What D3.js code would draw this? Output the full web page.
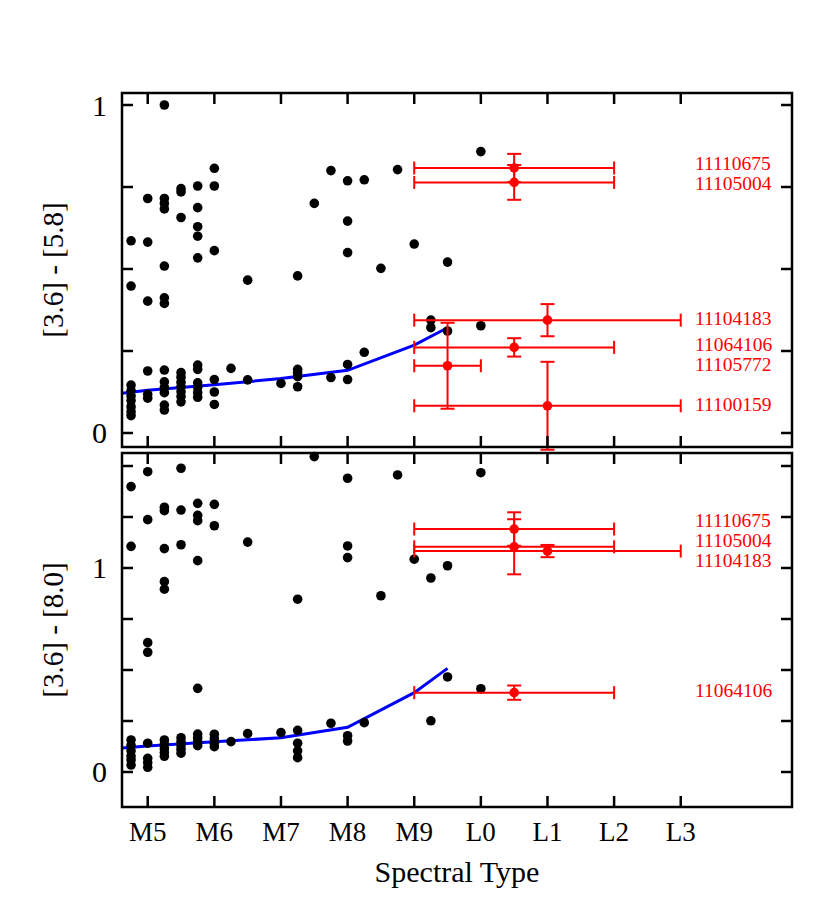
<!DOCTYPE html>
<html><head><meta charset="utf-8">
<script src="https://cdn.jsdelivr.net/npm/d3@7"></script>
<style>body{margin:0;background:#fff}svg{display:block}text{font-family:"Liberation Serif","Times New Roman",serif}</style>
</head><body><svg id="c" width="825" height="900"></svg>
<script>
// ---- DATA ----
const sptTicks = [5,6,7,8,9,10,11,12,13];
const sptLabels = ["M5","M6","M7","M8","M9","L0","L1","L2","L3"];

// Panel 1: [3.6]-[5.8] (black points)
const topX = [5.25,6.0,5.5,5.5,5.75,6.0,5.0,5.25,5.25,5.25,5.75,5.5,5.75,5.75,4.75,5.0,6.0,5.75,5.25,
  4.75,5.0,5.25,5.25,6.5,7.25,
  4.75,4.75,4.75,4.75,4.75,4.75,4.75,
  5.0,5.0,5.0,
  5.25,5.25,5.25,5.25,5.25,5.25,
  5.5,5.5,5.5,5.5,5.5,5.5,5.5,
  5.75,5.75,5.75,5.75,5.75,5.75,
  6.0,6.0,6.0,6.25,6.5,7.0,7.25,7.25,7.25,7.25,
  10.0,7.75,8.0,8.25,8.75,7.5,8.0,8.0,8.5,9.0,9.5,9.25,9.25,9.5,10.0,8.25,8.0,7.75,8.0];
const topY = [1.0,0.807,0.745,0.735,0.753,0.753,0.715,0.715,0.70,0.683,0.687,0.657,0.629,0.60,0.586,0.582,0.556,0.534,0.509,
  0.448,0.402,0.412,0.395,0.466,0.479,
  0.146,0.129,0.113,0.099,0.080,0.065,0.053,
  0.189,0.118,0.106,
  0.192,0.156,0.139,0.123,0.085,0.070,
  0.184,0.170,0.155,0.141,0.126,0.111,0.095,
  0.207,0.194,0.153,0.139,0.123,0.109,
  0.163,0.125,0.087,0.197,0.162,0.151,0.194,0.184,0.172,0.141,
  0.858,0.80,0.769,0.772,0.803,0.70,0.646,0.550,0.502,0.576,0.521,0.344,0.321,0.311,0.327,0.246,0.209,0.169,0.163];

// Panel 2: [3.6]-[8.0] (black points)
const botX = [5.0,5.5,4.75,5.25,5.25,5.5,5.75,6.0,5.75,5.75,5.0,6.0,6.5,4.75,5.25,5.5,5.75,5.25,5.25,7.25,5.0,5.0,5.75,
  4.75,4.75,4.75,4.75,4.75,4.75,
  5.0,5.0,5.0,5.0,
  5.25,5.25,5.25,5.25,5.25,
  5.5,5.5,5.5,5.5,5.5,
  5.75,5.75,5.75,5.75,
  6.0,6.0,6.0,6.0,
  6.25,6.5,7.0,7.25,7.25,7.25,7.25,
  7.5,8.0,8.75,10.0,8.0,8.0,9.0,9.25,9.5,8.5,9.5,10.0,9.25,8.25,7.75,8.0,8.0];
const botY = [1.472,1.489,1.399,1.298,1.281,1.284,1.317,1.312,1.258,1.232,1.237,1.207,1.127,1.106,1.095,1.114,1.036,0.933,0.896,0.847,0.634,0.587,0.410,
  0.157,0.131,0.104,0.078,0.059,0.034,
  0.141,0.067,0.046,0.023,
  0.157,0.136,0.114,0.095,0.077,
  0.168,0.149,0.129,0.111,0.092,
  0.186,0.168,0.149,0.129,
  0.185,0.163,0.141,0.124,
  0.149,0.188,0.193,0.204,0.141,0.104,0.070,
  1.546,1.44,1.456,1.467,1.108,1.051,1.043,0.951,1.011,0.864,0.466,0.408,0.251,0.242,0.239,0.178,0.152];

// Model sequences (blue lines)
const modelSpt = [4.5,5,6,7,8,9,9.5];
const model58 = [0.119,0.130,0.147,0.166,0.191,0.268,0.321];
const model80 = [0.115,0.127,0.148,0.168,0.219,0.389,0.508];

// Red objects, panel 1
const redNames1 = ["11110675","11105004","11104183","11064106","11105772","11100159"];
const redX1 = [10.5,10.5,11,10.5,9.5,11];
const redXlo1 = [9,9,9,9,9,9];
const redXhi1 = [12,12,13,12,10,13];
const redY1 = [0.808,0.764,0.344,0.261,0.205,0.083];
const redErr1 = [0.043,0.053,0.049,0.028,0.131,0.134];

// Red objects, panel 2
const redNames2 = ["11110675","11105004","11104183","11064106"];
const redX2 = [10.5,10.5,11,10.5];
const redXlo2 = [9,9,9,9];
const redXhi2 = [12,12,13,12];
const redY2 = [1.191,1.104,1.083,0.389];
const redErr2 = [0.082,0.135,0.030,0.035];

// ---- CHART ----
const svg = d3.select("#c");
const L = 122, R = 792;
const x = d3.scaleLinear().domain([4.614,14.67]).range([L,R]);

const panels = [
  {top:93, bot:447, dom:[-0.0427,1.0366], ticks:d3.range(0,1.01,0.25), lab:[0,1], title:"[3.6] - [5.8]",
   px:topX, py:topY, model:model58, names:redNames1, rx:redX1, rxlo:redXlo1, rxhi:redXhi1, ry:redY1, re:redErr1, xlabels:false},
  {top:453, bot:807, dom:[-0.1716,1.5637], ticks:d3.range(0,1.51,0.25), lab:[0,1], title:"[3.6] - [8.0]",
   px:botX, py:botY, model:model80, names:redNames2, rx:redX2, rxlo:redXlo2, rxhi:redXhi2, ry:redY2, re:redErr2, xlabels:true}
];

const red = "#ff0000";
panels.forEach((p,pi) => {
  const y = d3.scaleLinear().domain(p.dom).range([p.bot,p.top]);
  const g = svg.append("g");
  const clipId = "clip"+pi;
  svg.append("clipPath").attr("id",clipId).append("rect")
    .attr("x",L).attr("y",p.top).attr("width",R-L).attr("height",p.bot-p.top);

  // model line
  g.append("path").datum(modelSpt.map((s,i)=>[s,p.model[i]]))
    .attr("clip-path",`url(#${clipId})`)
    .attr("fill","none").attr("stroke","#0000ff").attr("stroke-width",3)
    .attr("d", d3.line().x(d=>x(d[0])).y(d=>y(d[1])));

  // black points
  g.selectAll("circle.b").data(p.px.map((v,i)=>[v,p.py[i]])).join("circle")
    .attr("cx",d=>x(d[0])).attr("cy",d=>y(d[1])).attr("r",4.8).attr("fill","#000");

  // red error bars
  const rd = p.names.map((n,i)=>({n, x:p.rx[i], xlo:p.rxlo[i], xhi:p.rxhi[i], y:p.ry[i], e:p.re[i]}));
  const rg = g.append("g").attr("stroke",red).attr("stroke-width",2).attr("fill","none");
  rd.forEach(d => {
    const yy = y(d.y);
    rg.append("line").attr("x1",x(d.xlo)).attr("x2",x(d.xhi)).attr("y1",yy).attr("y2",yy);
    [d.xlo,d.xhi].forEach(v=>rg.append("line").attr("x1",x(v)).attr("x2",x(v)).attr("y1",yy-6.5).attr("y2",yy+6.5));
    rg.append("line").attr("x1",x(d.x)).attr("x2",x(d.x)).attr("y1",y(d.y-d.e)).attr("y2",y(d.y+d.e));
    [d.y-d.e,d.y+d.e].forEach(v=>rg.append("line").attr("x1",x(d.x)-7).attr("x2",x(d.x)+7).attr("y1",y(v)).attr("y2",y(v)));
  });
  g.selectAll("circle.r").data(rd).join("circle")
    .attr("cx",d=>x(d.x)).attr("cy",d=>y(d.y)).attr("r",4.8).attr("fill",red);

  // labels with simple dodge (min spacing 20px)
  const ly = rd.map(d=>y(d.y));
  for (let it=0; it<200; it++) {
    const order = d3.range(ly.length).sort((a,b)=>ly[a]-ly[b]);
    for (let k=1;k<order.length;k++){
      const a=order[k-1], b=order[k];
      const gap = ly[b]-ly[a];
      if (gap<20){ const s=(20-gap)/2; ly[a]-=s; ly[b]+=s; }
    }
  }
  g.selectAll("text.lab").data(rd).join("text")
    .attr("x",695).attr("y",(d,i)=>ly[i]-2).attr("dy","0.35em")
    .attr("fill",red).attr("font-size",19.5).text(d=>d.n);

  // frame
  g.append("rect").attr("x",L).attr("y",p.top).attr("width",R-L).attr("height",p.bot-p.top)
    .attr("fill","none").attr("stroke","#000").attr("stroke-width",2.5);

  const tl = 11;
  sptTicks.forEach(t=>{
    g.append("line").attr("x1",x(t)).attr("x2",x(t)).attr("y1",p.top).attr("y2",p.top+tl).attr("stroke","#000").attr("stroke-width",2.5);
    g.append("line").attr("x1",x(t)).attr("x2",x(t)).attr("y1",p.bot).attr("y2",p.bot-tl).attr("stroke","#000").attr("stroke-width",2.5);
  });
  p.ticks.forEach(t=>{
    g.append("line").attr("x1",L).attr("x2",L+tl).attr("y1",y(t)).attr("y2",y(t)).attr("stroke","#000").attr("stroke-width",2.5);
    g.append("line").attr("x1",R).attr("x2",R-tl).attr("y1",y(t)).attr("y2",y(t)).attr("stroke","#000").attr("stroke-width",2.5);
  });
  p.lab.forEach(t=>{
    g.append("text").attr("x",107).attr("y",y(t)).attr("dy","0.35em").attr("text-anchor","end")
      .attr("font-size",30).text(t);
  });
  g.append("text").attr("transform",`translate(63,${(p.top+p.bot)/2}) rotate(-90)`)
    .attr("text-anchor","middle").attr("font-size",29).text(p.title);

  if (p.xlabels) {
    sptTicks.forEach((t,i)=>{
      g.append("text").attr("x",x(t)).attr("y",841).attr("text-anchor","middle").attr("font-size",27).text(sptLabels[i]);
    });
    g.append("text").attr("x",(L+R)/2).attr("y",882).attr("text-anchor","middle").attr("font-size",30).text("Spectral Type");
  }
});
</script></body></html>
